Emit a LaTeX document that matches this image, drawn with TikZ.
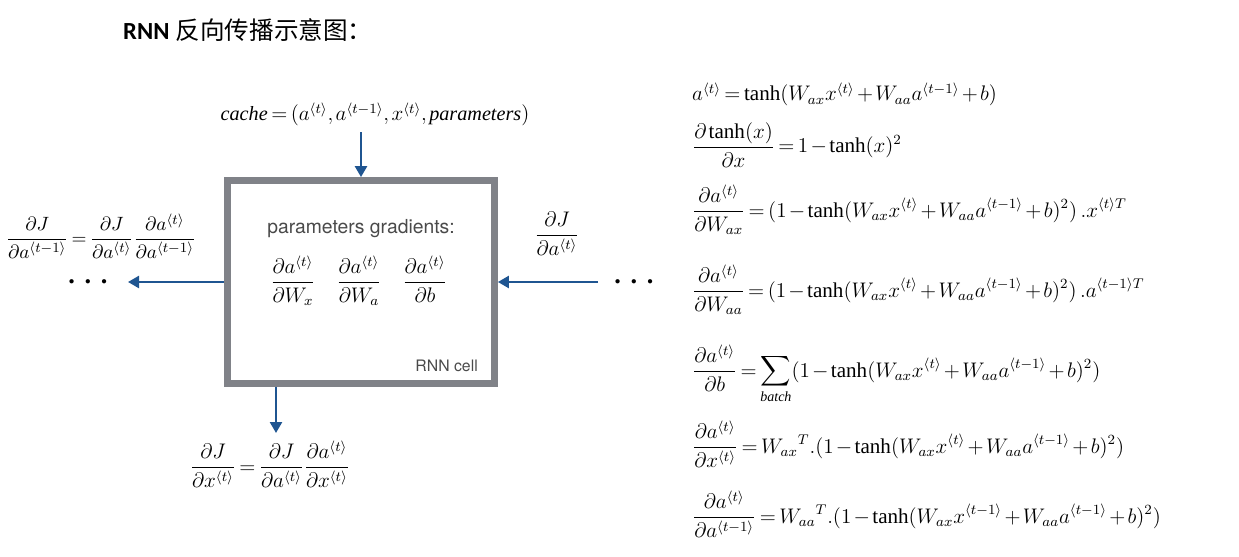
\documentclass[tikz,border=0pt]{standalone}
\usepackage{amsmath}
\usepackage{fontspec}
\setmainfont{Liberation Serif}
\setsansfont{TeX Gyre Heros}
\newfontfamily\cjk{Noto Sans CJK SC}
\newfontfamily\titlefont{Carlito}
\usepackage{tikz}
\usetikzlibrary{arrows.meta}
\definecolor{rnnblue}{HTML}{1F5591}
\definecolor{rnngrey}{HTML}{808288}
\definecolor{rnntext}{HTML}{4A4A4A}
\thinmuskip=2mu
\medmuskip=2mu plus 1mu
\thickmuskip=3mu plus 2mu
\newcommand{\ang}[1]{{\langle #1\rangle}}
\newcommand{\tanhsum}[1]{\tanh(W_{ax}x^{#1}+W_{aa}a^{\ang{t-1}}+b)}
\newcommand{\bigdots}{.\hspace{5.5pt}.\hspace{5.5pt}.}

\begin{document}
\begin{tikzpicture}[x=0.02cm,y=-0.02cm,
  cellbox/.style={draw=rnngrey,line width=3.9pt,minimum width=5.34cm,minimum height=4.06cm},
  flow/.style={-{Triangle[length=2.2mm,width=2.4mm]},rnnblue,line width=1.4pt},
  eq/.style={anchor=base west,font=\fontsize{12}{14}\selectfont},
  mth/.style={anchor=base,font=\fontsize{12}{14}\selectfont},
  dots/.style={font=\fontsize{15}{16}\selectfont\bfseries,inner sep=0pt},
  inlbl/.style={font=\sffamily\fontsize{11}{13}\selectfont,text=rnntext}
]
\useasboundingbox (0,0) rectangle (1239,557);

\node[anchor=west,font=\fontsize{14}{16}\selectfont] (title) at (117,30) {{\titlefont\bfseries RNN} {\cjk 反向传播示意图：}};

\node[cellbox] (cell) at (361,282) {};
\node[inlbl] (ptitle) at (361,229) {parameters gradients:};
\node[mth] (grad) at (359,288) {$\displaystyle \frac{\partial a^{\ang t}}{\partial W_x}\quad \frac{\partial a^{\ang t}}{\partial W_a}\quad \frac{\partial a^{\ang t}}{\partial b}$};
\node[inlbl,font=\sffamily\fontsize{9}{11}\selectfont,anchor=east] (tag) at (484,366) {RNN cell};

\node[mth,font=\fontsize{11.5}{14}\selectfont] (cache) at (375,121) {$\mathit{cache}=(a^{\ang t},a^{\ang{t-1}},x^{\ang t},\mathit{parameters})$};
\node[mth,font=\fontsize{11.3}{14}\selectfont] (dat1) at (101,244) {$\displaystyle \frac{\partial J}{\partial a^{\ang{t-1}}}=\frac{\partial J}{\partial a^{\ang t}}\frac{\partial a^{\ang t}}{\partial a^{\ang{t-1}}}$};
\node[mth] (dat) at (557,241) {$\displaystyle \frac{\partial J}{\partial a^{\ang t}}$};
\node[mth] (dxt) at (270,473) {$\displaystyle \frac{\partial J}{\partial x^{\ang t}}=\frac{\partial J}{\partial a^{\ang t}}\frac{\partial a^{\ang t}}{\partial x^{\ang t}}$};
\node[dots] (ldots) at (88,282) {\bigdots};
\node[dots] (rdots) at (634,282) {\bigdots};
\coordinate (lend) at (128,282);
\coordinate (rbeg) at (598,282);
\coordinate (dxtop) at (276,433);

\draw[flow] (cache.south -| cell) -- (cell.north);
\draw[flow] (cell.west |- lend) -- (lend);
\draw[flow] (rbeg) -- (cell.east |- rbeg);
\draw[flow] (cell.south -| dxtop) -- (dxtop);

\node[eq] (e1) at (686,101) {$a^{\ang t}=\tanh(W_{ax}x^{\ang t}+W_{aa}a^{\ang{t-1}}+b)$};
\node[eq] (e2) at (686,153) {$\displaystyle \frac{\partial\tanh(x)}{\partial x}=1-\tanh(x)^2$};
\node[eq] (e3) at (686,217) {$\displaystyle \frac{\partial a^{\ang t}}{\partial W_{ax}}=(1-\tanhsum{\ang t}^2)\;.x^{\ang t T}$};
\node[eq] (e4) at (686,297) {$\displaystyle \frac{\partial a^{\ang t}}{\partial W_{aa}}=(1-\tanhsum{\ang t}^2)\;.a^{\ang{t-1}T}$};
\node[eq] (e5) at (686,377) {$\displaystyle \frac{\partial a^{\ang t}}{\partial b}=\sum_{\mathit{batch}}(1-\tanhsum{\ang t}^2)$};
\node[eq] (e6) at (686,453) {$\displaystyle \frac{\partial a^{\ang t}}{\partial x^{\ang t}}=W_{ax}{}^{T}.(1-\tanhsum{\ang t}^2)$};
\node[eq] (e7) at (686,523) {$\displaystyle \frac{\partial a^{\ang t}}{\partial a^{\ang{t-1}}}=W_{aa}{}^{T}.(1-\tanhsum{\ang{t-1}}^2)$};
\end{tikzpicture}
\end{document}
